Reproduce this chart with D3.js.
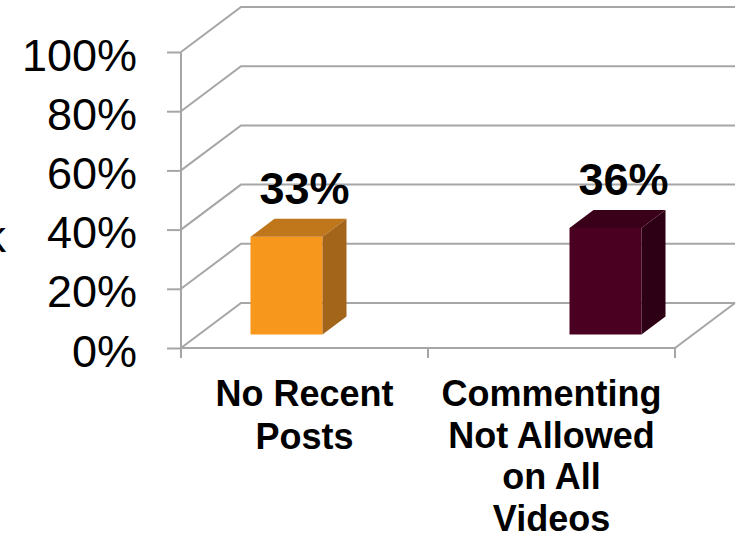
<!DOCTYPE html>
<html>
<head>
<meta charset="utf-8">
<script src="https://cdn.jsdelivr.net/npm/d3@7"></script>
<style>
  html, body { margin: 0; padding: 0; background: #ffffff; }
  svg { display: block; font-family: "Liberation Sans", Arial, sans-serif; }
</style>
</head>
<body>
<svg id="chart" width="744" height="538"></svg>
<script>
// Chart data
const categories = ["No Recent Posts", "Commenting Not Allowed on All Videos"];
const categoryLines = [["No Recent", "Posts"], ["Commenting", "Not Allowed", "on All", "Videos"]];
const seriesSlots = [0, 1];           // each category occupies its own series slot in the group
const values = [33, 36];               // percent
const yTicks = [0, 20, 40, 60, 80, 100];
const frontColors = ["#F7981D", "#4A0020"];
const topColors   = ["#C0761B", "#3A0019"];
const sideColors  = ["#A3651A", "#2E0015"];

const svg = d3.select("#chart");

// Oblique projection: depth z in [0,1] shifts points right and up
const depth = { dx: 60, dy: -45 };
const proj = (x, y, z) => [x + z * depth.dx, y + z * depth.dy];

const y = d3.scaleLinear().domain([0, 100]).range([348, 52]);
const x0 = d3.scaleBand().domain(categories).range([181, 675]).padding(0);
const x1 = d3.scaleBand().domain([0, 1]).range([0, x0.bandwidth()])
  .paddingInner(0).paddingOuter(0.715);

const gridColor = "#a6a6a6";
const grid = svg.append("g").attr("stroke", gridColor).attr("stroke-width", 2).attr("fill", "none");

// Back wall gridlines and left wall diagonals
yTicks.forEach(t => {
  const a = proj(181, y(t), 0), b = proj(181, y(t), 1), c = proj(675, y(t), 1);
  grid.append("path").attr("d", `M${a[0]},${a[1]}L${b[0]},${b[1]}L${c[0]},${c[1]}`);
});
// Floor right edge
{
  const a = proj(675, y(0), 0), b = proj(675, y(0), 1);
  grid.append("path").attr("d", `M${a[0]},${a[1]}L${b[0]},${b[1]}`);
}

// Front axes
const yAxis = d3.axisLeft(y).tickValues(yTicks).tickSize(14).tickFormat(d => d + "%");
const yg = svg.append("g").attr("transform", "translate(181,0)").call(yAxis);
yg.select(".domain").attr("stroke", gridColor).attr("stroke-width", 2)
  .attr("d", `M0,${y(100)}V${y(0) + 10}`);
yg.selectAll(".tick line").attr("stroke", gridColor).attr("stroke-width", 2);
yg.selectAll(".tick text")
  .attr("x", -44).attr("dy", null).attr("y", 18)
  .attr("fill", "#000").style("font-size", "45px")
  .style("font-family", "'Liberation Sans', Arial, sans-serif");

const xg = svg.append("g").attr("transform", `translate(0,${y(0)})`);
xg.append("line").attr("x1", 181).attr("x2", 675).attr("y1", 0).attr("y2", 0)
  .attr("stroke", gridColor).attr("stroke-width", 2);
const xEdges = [x0.range()[0], ...categories.map(c => x0(c) + x0.bandwidth())];
xg.selectAll("line.tk").data(xEdges).join("line").attr("class", "tk")
  .attr("x1", d => d).attr("x2", d => d).attr("y1", 0).attr("y2", 10)
  .attr("stroke", gridColor).attr("stroke-width", 2);

// 3D bars
const z0 = 0.3, z1 = 0.7;
const bars = svg.append("g");
categories.forEach((cat, i) => {
  const xl = x0(cat) + x1(seriesSlots[i]);
  const xr = xl + x1.bandwidth();
  const yt = y(values[i]), yb = y(0);
  const P = (px, py, pz) => proj(px, py, pz).join(",");
  // front
  bars.append("polygon").attr("fill", frontColors[i])
    .attr("points", [P(xl, yt, z0), P(xr, yt, z0), P(xr, yb, z0), P(xl, yb, z0)].join(" "));
  // top
  bars.append("polygon").attr("fill", topColors[i])
    .attr("points", [P(xl, yt, z0), P(xl, yt, z1), P(xr, yt, z1), P(xr, yt, z0)].join(" "));
  // right side
  bars.append("polygon").attr("fill", sideColors[i])
    .attr("points", [P(xr, yt, z0), P(xr, yt, z1), P(xr, yb, z1), P(xr, yb, z0)].join(" "));
  // value label
  const lp = proj((xl + xr) / 2, yt, 0.6);
  bars.append("text")
    .attr("x", lp[0]).attr("y", proj(0, yt, z1)[1] - 15)
    .attr("text-anchor", "middle").attr("font-weight", "bold")
    .style("font-size", "45px").attr("fill", "#000")
    .text(values[i] + "%");
});

// Category labels
categories.forEach((cat, i) => {
  const cx = x0(cat) + x0.bandwidth() / 2;
  const t = svg.append("text").attr("text-anchor", "middle").attr("font-weight", "bold")
    .style("font-size", "36px").attr("fill", "#000");
  categoryLines[i].forEach((ln, j) => {
    t.append("tspan").attr("x", cx).attr("y", 406 + j * (i === 0 ? 43 : 41.5)).text(ln);
  });
});

// Axis title fragment at the left edge
svg.append("text").attr("x", 6).attr("y", 252).attr("text-anchor", "end")
  .style("font-size", "45px").attr("fill", "#000").text("k");
</script>
</body>
</html>
